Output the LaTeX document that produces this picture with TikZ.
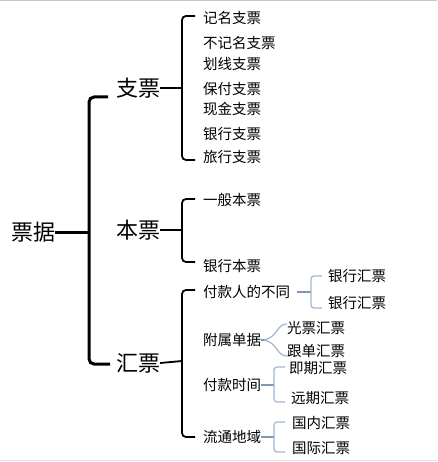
\documentclass[tikz,border=0pt]{standalone}
\usepackage{fontspec}
\setmainfont{Noto Sans CJK SC}
\definecolor{bluegray}{RGB}{160,182,205}
\definecolor{bluemid}{RGB}{125,152,182}
\begin{document}
\begin{tikzpicture}[x=1pt,y=-1pt,
  big/.style={font=\fontsize{22}{22}\selectfont, inner sep=0pt},
  item/.style={font=\fontsize{14.5}{14.5}\selectfont, inner sep=0pt, anchor=west},
  brA/.style={line width=3pt, rounded corners=5pt},
  brB/.style={line width=1.8pt, rounded corners=4pt},
  brC/.style={draw=bluegray, line width=1.2pt, rounded corners=3pt},
  midC/.style={draw=bluemid, line width=2pt},
]
\useasboundingbox (0,0) rectangle (437,462);
\draw[black!22, line width=1.5pt] (0,0.75) -- (437,0.75);
\draw[black!12, line width=1.5pt] (0,460.5) -- (437,460.5);

% level 0 / 1
\node[big] (pj) at (33,232) {票据};
\node[big] (zp) at (138,88) {支票};
\node[big] (bp) at (138,230) {本票};
\node[big] (hp) at (138,363) {汇票};

% 支票 items
\node[item] (z1) at (203,18) {记名支票};
\node[item] (z2) at (203,43) {不记名支票};
\node[item] (z3) at (203,64) {划线支票};
\node[item] (z4) at (203,89) {保付支票};
\node[item] (z5) at (203,109) {现金支票};
\node[item] (z6) at (203,134) {银行支票};
\node[item] (z7) at (203,157) {旅行支票};

% 本票 items
\node[item] (b1) at (203,200) {一般本票};
\node[item] (b2) at (203,266) {银行本票};

% 汇票 items
\node[item] (h1) at (203,292) {付款人的不同};
\node[item] (h2) at (203,340) {附属单据};
\node[item] (h3) at (203,385) {付款时间};
\node[item] (h4) at (203,437) {流通地域};

\node[item] (h11) at (328,276) {银行汇票};
\node[item] (h12) at (328,303) {银行汇票};
\node[item] (h21) at (287,328) {光票汇票};
\node[item] (h22) at (287,351) {跟单汇票};
\node[item] (h31) at (289,368) {即期汇票};
\node[item] (h32) at (291,398) {远期汇票};
\node[item] (h41) at (292,423) {国内汇票};
\node[item] (h42) at (292,448) {国际汇票};

% coordinates of brace points
\coordinate (mA) at (89,232);
\coordinate (mZ) at (182,88);
\coordinate (mB) at (182,230);
\coordinate (mH) at (182,361);

% main brace
\draw[brA] (108,97) -- (89,97) -- (89,364) -- (110,364);
\draw[line width=3pt] (pj.east) -- (mA);

% sub braces
\draw[brB] (195,16) -- (182,16) -- (182,160) -- (195,160);
\draw[line width=1.8pt] (zp.east) -- (mZ);
\draw[brB] (195,199) -- (182,199) -- (182,262) -- (195,262);
\draw[line width=1.8pt] (bp.east) -- (mB);
\draw[brB] (195,290) -- (182,290) -- (182,437) -- (195,437);
\draw[line width=1.8pt] (hp.east) -- (mH);

% blue braces
\coordinate (c1) at (311,292);
\draw[midC] ([xshift=7pt]h1.east) -- (c1);
\draw[brC] (322,276) -- (311,276) -- (311,308) -- (322,308);

\draw[draw=bluegray, line width=1.2pt]
  (287,324) .. controls (276,324) and (278,338) .. (263,340)
  .. controls (278,342) and (276,356) .. (287,356);
\draw[midC, line width=1.5pt] (h2.east) -- ++(3,0);

\coordinate (c3) at (274,385);
\draw[midC, line width=1.5pt] (h3.east) -- (c3);
\draw[brC] (285,367) -- (274,367) -- (274,402) -- (285,402);

\coordinate (c4) at (274,437);
\draw[midC, line width=1.5pt] (h4.east) -- (c4);
\draw[brC] (285,422) -- (274,422) -- (274,452) -- (285,452);
\end{tikzpicture}
\end{document}
